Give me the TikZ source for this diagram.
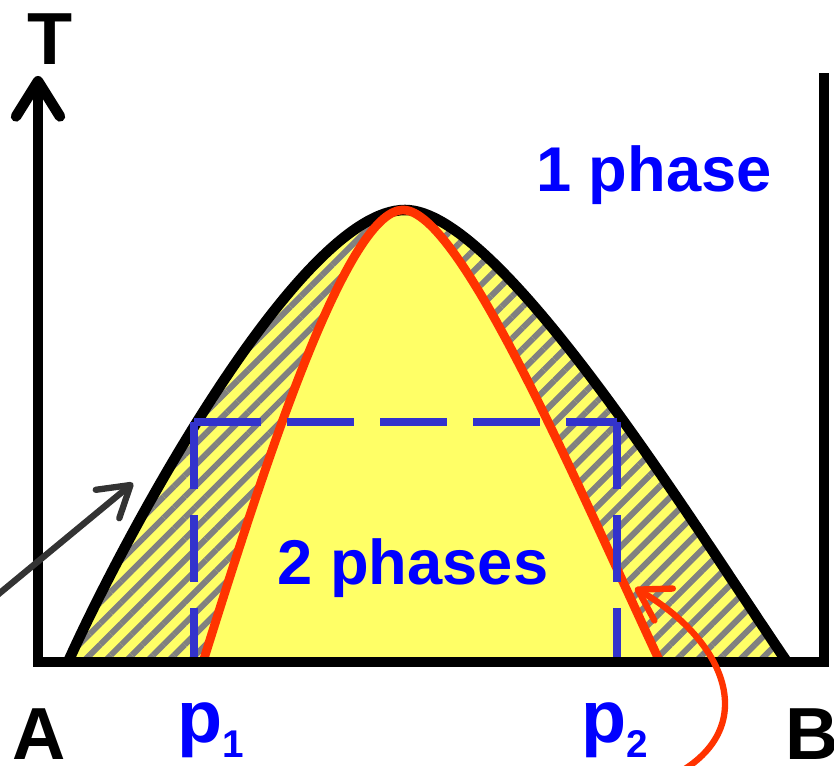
\documentclass[tikz,border=0pt]{standalone}
\usepackage{fontspec}
\setmainfont{Liberation Sans}
\usetikzlibrary{arrows.meta, patterns.meta}
\definecolor{fillyellow}{HTML}{FFFF66}
\definecolor{curvered}{HTML}{FF3300}
\definecolor{boxblue}{HTML}{3333CC}
\definecolor{textblue}{HTML}{0000FF}
\definecolor{arrowgray}{HTML}{333333}
\newcommand\psub[1]{\raisebox{-9pt}{\fontsize{22}{22}\selectfont #1}}

\begin{document}
\begin{tikzpicture}[
  x=0.02cm, y=-0.02cm,
  axis/.style={line width=6pt, black},
  outline/.style={line width=6pt, black},
  redline/.style={line width=5pt, curvered},
  boxdash/.style={line width=4pt, boxblue, dash pattern=on 38pt off 15pt},
  hatched/.style={preaction={fill=fillyellow}, pattern={Lines[angle=45, distance=8.5pt, line width=3.4pt]}, pattern color=gray},
  lbl/.style={font=\fontsize{42}{48}\selectfont\bfseries, inner sep=0, anchor=base},
  phase/.style={font=\fontsize{36}{42}\selectfont\bfseries, text=textblue, inner sep=0, anchor=base},
  pointer/.style={line width=3.6pt, -{Straight Barb[length=17pt, width=21pt, round]}}
]
\useasboundingbox (0,0) rectangle (834,766);

% two-phase region
\fill[hatched] (68,662) .. controls (125,535) and (300,210) .. (405,210)
  .. controls (500,210) and (690,520) .. (787,662) -- cycle;
\fill[fillyellow] (203,662) .. controls (260,480) and (345,210) .. (403,210)
  .. controls (460,210) and (575,480) .. (660,662) -- cycle;
\draw[outline] (68,662) .. controls (125,535) and (300,210) .. (405,210)
  .. controls (500,210) and (690,520) .. (787,662);
\draw[redline] (203,662) .. controls (260,480) and (345,210) .. (403,210)
  .. controls (460,210) and (575,480) .. (660,662);

\coordinate (boxtl) at (194,422);
\coordinate (boxtr) at (617,422);
\coordinate (boxbl) at (194,662);
\coordinate (boxbr) at (617,662);
\draw[boxdash] (boxtl) -- (boxbl);
\draw[boxdash] (boxtl) -- (boxtr);
\draw[boxdash] (boxtr) -- (boxbr);

% axes
\draw[axis, {Straight Barb[length=20pt, width=25pt, round]}-] (38,76) -- (38,662) -- (824,662) -- (824,73);

\node[lbl] (tlabel) at (50,65) {T};
\node[lbl] (alabel) at (39,759) {A};
\node[lbl] (blabel) at (812,759) {B};
\node[lbl, text=textblue] (pone) at (211,742) {p\psub{1}};
\node[lbl, text=textblue] (ptwo) at (615,742) {p\psub{2}};
\node[phase] (onephase) at (654,192) {1 phase};
\node[phase] (twophase) at (413,584) {2 phases};

\coordinate (hatchtail) at (-5,597);
\coordinate (hatchtip) at (133,483);
\draw[pointer, arrowgray] (hatchtail) -- (hatchtip);
\coordinate (redtail) at (680,772);
\coordinate (redtip) at (635,588);
\draw[pointer, curvered] (redtail) .. controls (760,725) and (725,640) .. (redtip);
\end{tikzpicture}
\end{document}
